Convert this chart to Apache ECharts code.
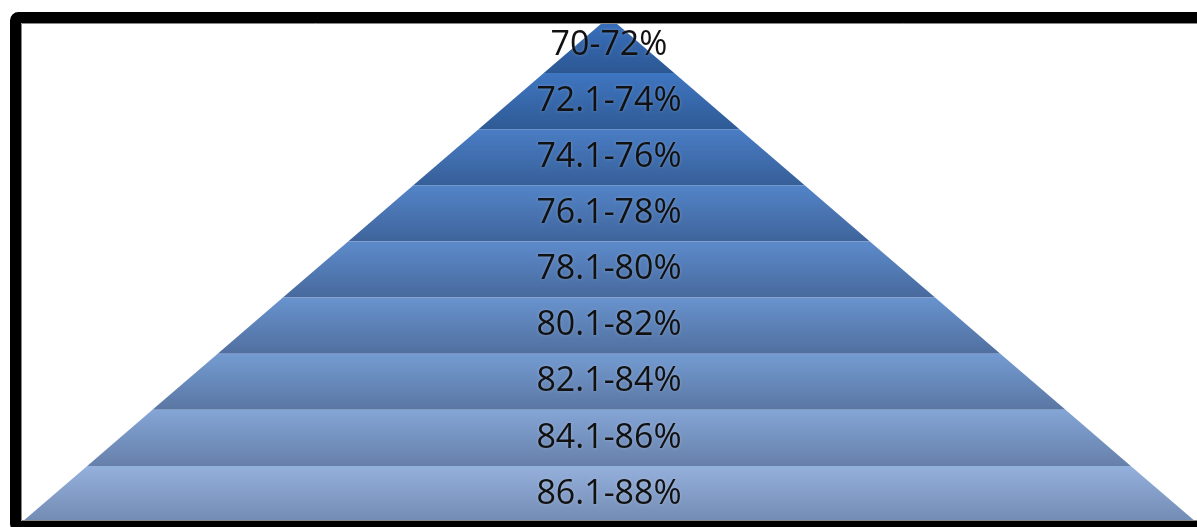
<!DOCTYPE html>
<html>
<head>
<meta charset="utf-8">
<script src="https://cdn.jsdelivr.net/npm/echarts@6/dist/echarts.min.js"></script>
<style>
html,body{margin:0;padding:0;background:#fff;}
#chart{width:1197px;height:527px;}
</style>
</head>
<body>
<div id="chart"></div>
<script>
// Pyramid layers from top (narrowest) to bottom (widest)
const categories = ['70-72%','72.1-74%','74.1-76%','76.1-78%','78.1-80%','80.1-82%','82.1-84%','84.1-86%','86.1-88%'];
const layerValues = [1,2,3,4,5,6,7,8,9];
const topColors    = ['#3a72c0','#3f76c2','#4a7dc5','#5384c8','#5d8bcb','#6893ce','#749cd2','#84a5d6','#94b0dc'];
const bottomColors = ['#2c5793','#2f5a95','#365f98','#3f649b','#47699d','#506f9f','#5a76a3','#6680aa','#728bb3'];

const data = categories.map((name, i) => ({
  name: name,
  value: layerValues[i],
  itemStyle: {
    color: {
      type: 'linear', x: 0, y: 0, x2: 0, y2: 1,
      colorStops: [
        { offset: 0, color: topColors[i] },
        { offset: 1, color: bottomColors[i] }
      ]
    }
  }
}));

const chart = echarts.init(document.getElementById('chart'));
chart.setOption({
  animation: false,
  backgroundColor: '#ffffff',
  series: [{
    type: 'funnel',
    left: 22,
    top: 17,
    width: 1174,
    height: 505,
    min: 0,
    max: 9,
    minSize: '0%',
    maxSize: '100%',
    sort: 'ascending',
    gap: 0,
    label: {
      show: true,
      position: 'inside',
      color: '#111111',
      fontSize: 34,
      fontFamily: 'Open Sans',
      textShadowColor: 'rgba(255,255,255,0.25)',
      textShadowBlur: 3
    },
    labelLine: { show: false },
    itemStyle: { borderWidth: 0 },
    emphasis: { disabled: true },
    data: data
  }],
  graphic: [
    {
      type: 'rect',
      z: 100,
      silent: true,
      shape: { x: 21.5, y: 23.5, width: 1300, height: 497, r: 0 },
      style: { fill: null, stroke: '#888888', lineWidth: 1 }
    },
    {
      type: 'rect',
      z: 101,
      silent: true,
      shape: { x: 15.5, y: 17.5, width: 1300, height: 509, r: 3 },
      style: { fill: null, stroke: '#000000', lineWidth: 11 }
    }
  ]
});
</script>
</body>
</html>
